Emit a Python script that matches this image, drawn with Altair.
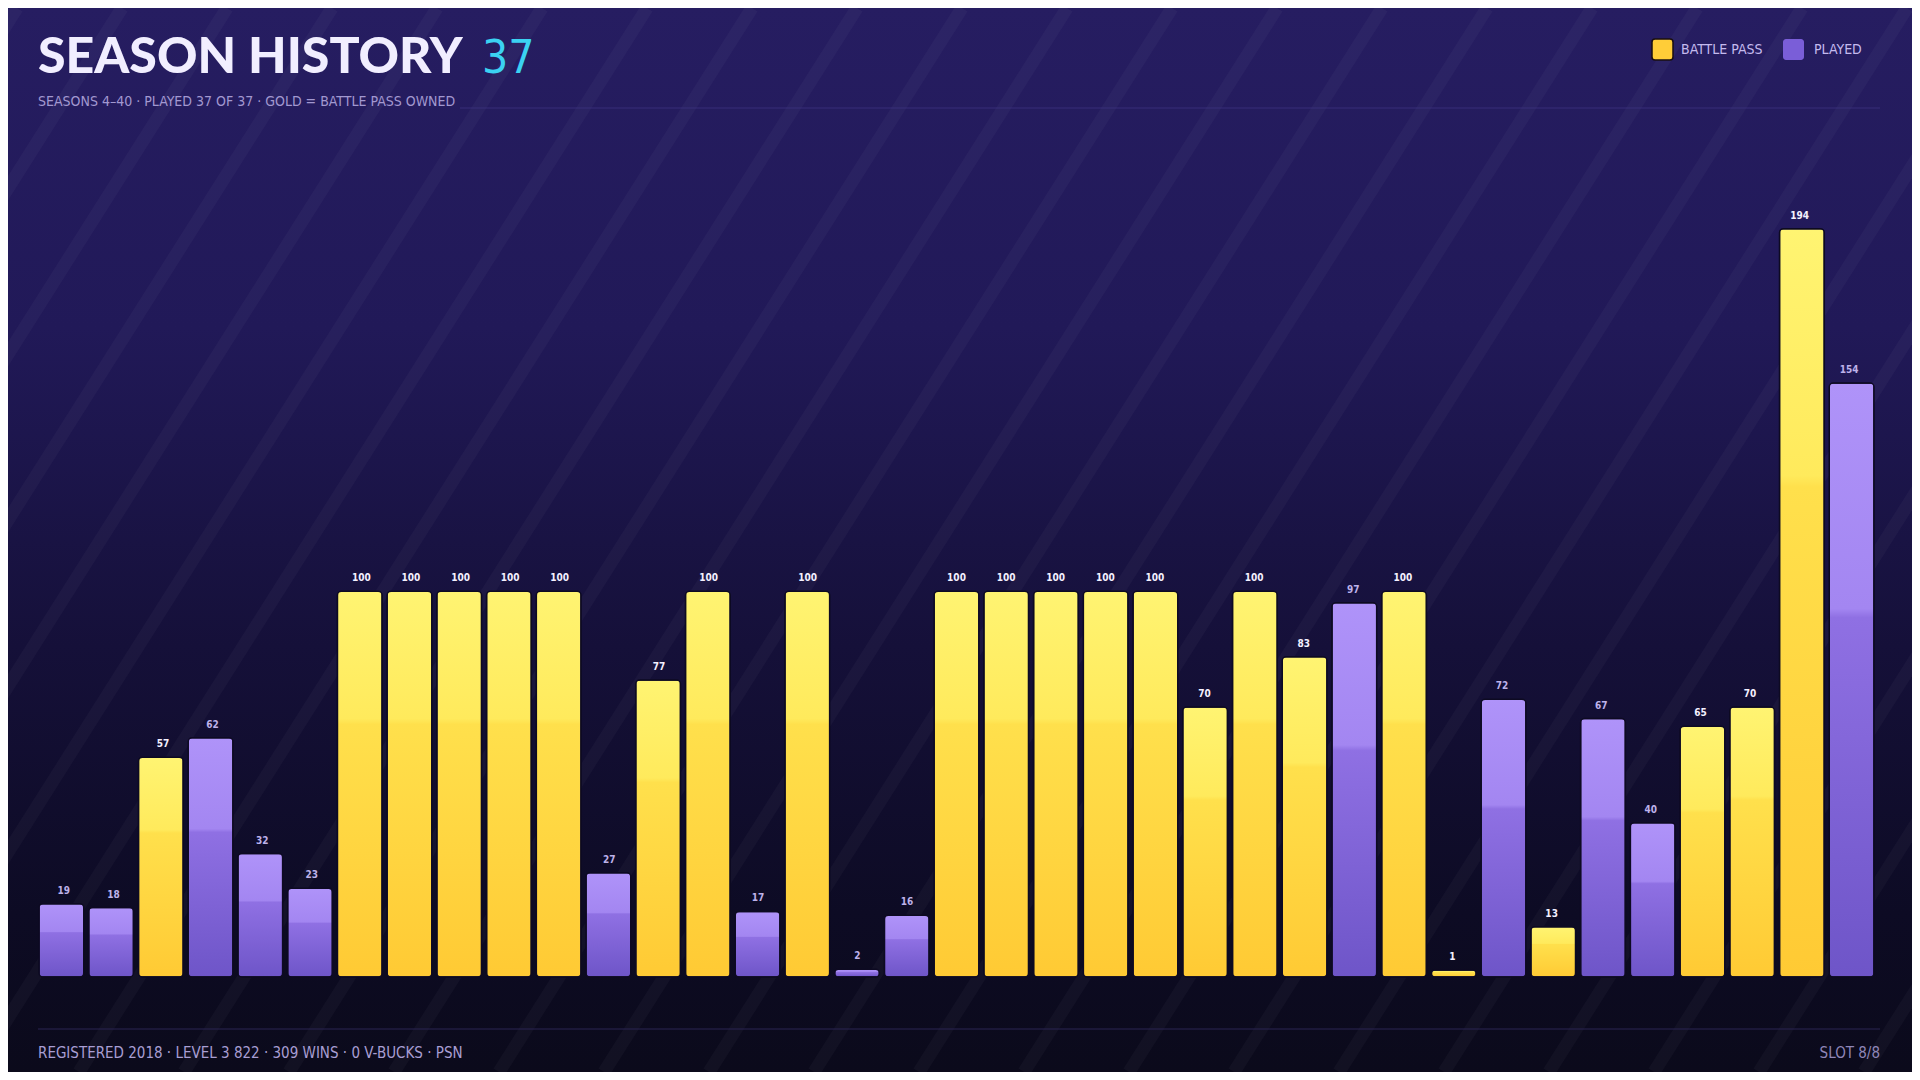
import altair as alt
import pandas as pd

# ---- data ----
seasons = list(range(4, 41))
values = [19, 18, 57, 62, 32, 23, 100, 100, 100, 100, 100, 27, 77, 100, 17, 100, 2, 16,
          100, 100, 100, 100, 100, 70, 100, 83, 97, 100, 1, 72, 13, 67, 40, 65, 70, 194, 154]
battle_pass = [0, 0, 1, 0, 0, 0, 1, 1, 1, 1, 1, 0, 1, 1, 0, 1, 0, 0,
               1, 1, 1, 1, 1, 1, 1, 1, 0, 1, 1, 0, 1, 0, 0, 1, 1, 1, 0]

title_text = "SEASON HISTORY"
title_count = "37"
subtitle_text = "SEASONS 4\u201340  \u00b7  PLAYED 37 OF 37  \u00b7  GOLD = BATTLE PASS OWNED"
legend_labels = ["BATTLE PASS", "PLAYED"]
footer_left = "REGISTERED 2018  \u00b7  LEVEL 3 822  \u00b7  309 WINS  \u00b7  0 V-BUCKS  \u00b7  PSN"
footer_right = "SLOT 8/8"

df = pd.DataFrame({"season": seasons, "value": values, "bp": battle_pass})

# ---- layout ----
W, H = 1835, 810
PAD = {"left": 31, "top": 159, "right": 38, "bottom": 95}
X0, X1 = -PAD["left"], W + PAD["right"]
Y0, Y1 = -PAD["top"], H + PAD["bottom"]

COND = "Liberation Sans Narrow, DejaVu Sans Condensed, Roboto, sans-serif"
TITLE_FONT = "Lato Black, Lato, Inter, sans-serif"

xs = alt.Scale(domain=seasons, paddingInner=0.1, paddingOuter=0)
ys = alt.Scale(domain=[0, 210], nice=False, zero=True)

one = alt.Data(values=[{"k": 0}])

def grad(stops):
    return alt.LinearGradient(
        gradient="linear", x1=0, y1=0, x2=0, y2=1,
        stops=[alt.GradientStop(offset=o, color=c) for o, c in stops],
    )

bg_grad = grad([(0, "#261d61"), (0.3, "#211958"), (0.6, "#151039"), (0.85, "#0d0b24"), (1, "#0b0a1b")])
yellow = grad([(0, "#fff472"), (0.33, "#ffea5c"), (0.345, "#ffe04c"), (1, "#ffca34")])
purple = grad([(0, "#af93f9"), (0.38, "#a386f1"), (0.395, "#8f70e3"), (1, "#6e55c8")])

background = alt.Chart(one).mark_rect(fill=bg_grad).encode(
    x=alt.value(X0), x2=alt.value(X1), y=alt.value(Y0), y2=alt.value(Y1)
)

# diagonal stripes (decorative)
stripe_df = pd.DataFrame({"o": list(range(-800, 1950, 105))})
stripes = alt.Chart(stripe_df).transform_calculate(o2="datum.o + 673").mark_rule(
    color="#ffffff", opacity=0.03, strokeWidth=13
).encode(
    x=alt.X("o:Q", scale=None, axis=None), x2="o2:Q",
    y=alt.value(Y1), y2=alt.value(Y0),
)

# rules
header_rule = alt.Chart(one).mark_rule(color="#3c3380", strokeWidth=1, opacity=0.8).encode(
    x=alt.value(421), x2=alt.value(1841), y=alt.value(-59))
footer_rule = alt.Chart(one).mark_rule(color="#2b2552", strokeWidth=1).encode(
    x=alt.value(-1), x2=alt.value(1841), y=alt.value(862))

# bars (tiny values get a minimum visible height, as in the original)
base = alt.Chart(df).transform_calculate(shown="max(datum.value, 1.8)")

bars = base.mark_bar(cornerRadius=4, stroke="#0d0a22", strokeWidth=1.5).encode(
    x=alt.X("season:O", scale=xs, title=None,
            axis=alt.Axis(labelAngle=0, ticks=False, domain=True, domainColor="#2e2763",
                          domainWidth=1.5, labelColor="#9d93c8", labelFont=COND,
                          labelFontSize=11, labelPadding=9, grid=False)),
    y=alt.Y("shown:Q", scale=ys, axis=None),
    fill=alt.condition("datum.bp == 1", alt.value(yellow), alt.value(purple)),
)

labels = base.mark_text(font=COND, fontSize=10, dy=-13, baseline="middle",
                        fontWeight="bold").encode(
    x=alt.X("season:O", scale=xs, axis=None),
    y=alt.Y("shown:Q", scale=ys, axis=None),
    text="value:Q",
    color=alt.condition("datum.bp == 1", alt.value("#f4f0ff"), alt.value("#beb2ea")),
)

def txt(t, x, y, size, color, font=COND, align="left", weight="normal", baseline="middle"):
    return alt.Chart(one).mark_text(
        text=t, font=font, fontSize=size, color=color, align=align,
        fontWeight=weight, baseline=baseline,
    ).encode(x=alt.value(x), y=alt.value(y))

title = txt(title_text, -1, -94, 50, "#f1eeff", font=TITLE_FONT, weight=900, baseline="alphabetic")
count = txt(title_count, 443, -94, 46, "#3bd2f2", baseline="alphabetic")
subtitle = txt(subtitle_text, -1, -65, 14, "#a298d0")

leg_y0, leg_y1 = -128, -107
leg1 = alt.Chart(one).mark_rect(fill="#ffcd38", stroke="#1a0f10", strokeWidth=1.5, cornerRadius=3).encode(
    x=alt.value(1613), x2=alt.value(1634), y=alt.value(leg_y0), y2=alt.value(leg_y1))
leg2 = alt.Chart(one).mark_rect(fill="#7a5ed8", cornerRadius=3).encode(
    x=alt.value(1744), x2=alt.value(1765), y=alt.value(leg_y0), y2=alt.value(leg_y1))
leg1t = txt(legend_labels[0], 1642, -117, 14, "#c4baee")
leg2t = txt(legend_labels[1], 1775, -117, 14, "#c4baee")

foot_l = txt(footer_left, -1, 886, 15, "#a89ed3")
foot_r = txt(footer_right, 1841, 886, 15, "#8f86b8", align="right")

chart = alt.layer(
    background, stripes, header_rule, footer_rule,
    bars, labels,
    title, count, subtitle, leg1, leg2, leg1t, leg2t, foot_l, foot_r,
).resolve_scale(x="independent").properties(
    width=W, height=H, padding=PAD, autosize=alt.AutoSizeParams(type="none"),
    background="#0b0a1b",
).configure_view(stroke=None)

chart.save("out.html", embed_options={"renderer": "svg", "actions": False})
